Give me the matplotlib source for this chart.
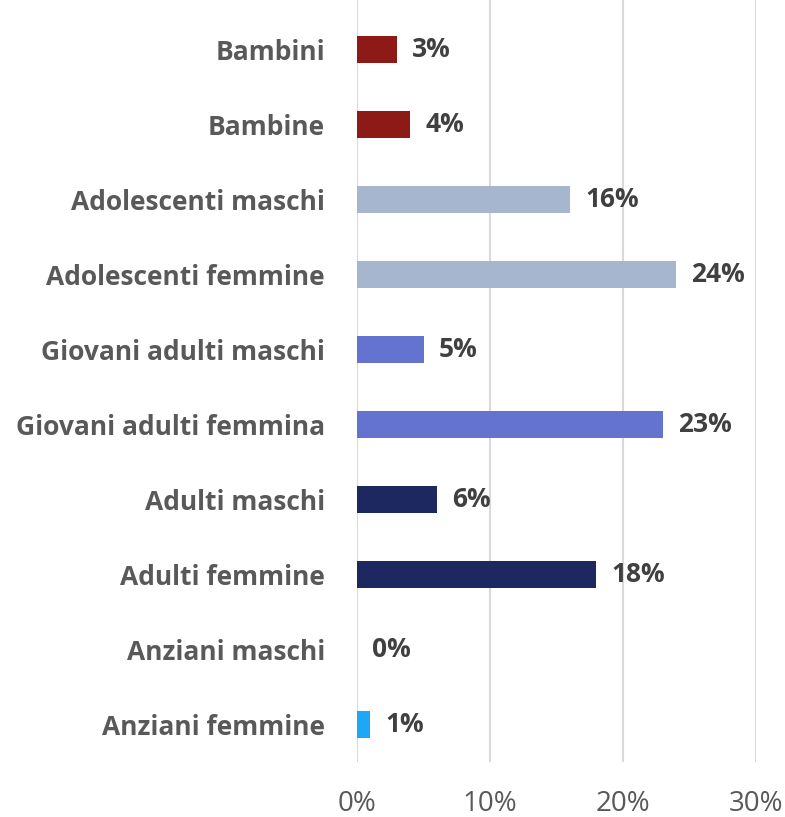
import numpy as np
import matplotlib
matplotlib.use("Agg")
import matplotlib.pyplot as plt

categories = [
    "Bambini",
    "Bambine",
    "Adolescenti maschi",
    "Adolescenti femmine",
    "Giovani adulti maschi",
    "Giovani adulti femmina",
    "Adulti maschi",
    "Adulti femmine",
    "Anziani maschi",
    "Anziani femmine",
]
values = [3, 4, 16, 24, 5, 23, 6, 18, 0, 1]
colors = [
    "#8E1A17", "#8E1A17",
    "#A6B6CF", "#A6B6CF",
    "#6373CF", "#6373CF",
    "#1D2760", "#1D2760",
    "#1D2760", "#1EA6F7",
]
ticks = [0, 10, 20, 30]

plt.rcParams["font.family"] = ["Open Sans", "DejaVu Sans"]

fig = plt.figure(figsize=(7.85, 8.17), dpi=100)
ax = fig.add_axes([357 / 785, 55 / 817, (756 - 357) / 785, (817 - 55) / 817])

y = np.arange(len(categories))
ax.barh(y, values, height=0.36, color=colors, zorder=3)

for yi, v in zip(y, values):
    ax.annotate(f"{v}%", (v, yi), xytext=(11, 0), textcoords="offset points",
                va="center", ha="left", fontsize=19, fontweight="bold",
                color="#404040")

ax.set_xlim(0, 30)
ax.set_ylim(9.5, -0.5 - 12 / 75)
ax.set_yticks(y)
ax.set_yticklabels(categories, fontsize=19, fontweight="bold", color="#595959")
ax.set_xticks(ticks)
ax.set_xticklabels([f"{t}%" for t in ticks], fontsize=20, color="#595959")
ax.tick_params(axis="y", length=0, pad=23)
ax.tick_params(axis="x", length=0, pad=20)

ax.grid(axis="x", color="#D9D9D9", linewidth=1.5, zorder=0)
for s in ax.spines.values():
    s.set_visible(False)

fig.savefig("out.png", dpi=100)
